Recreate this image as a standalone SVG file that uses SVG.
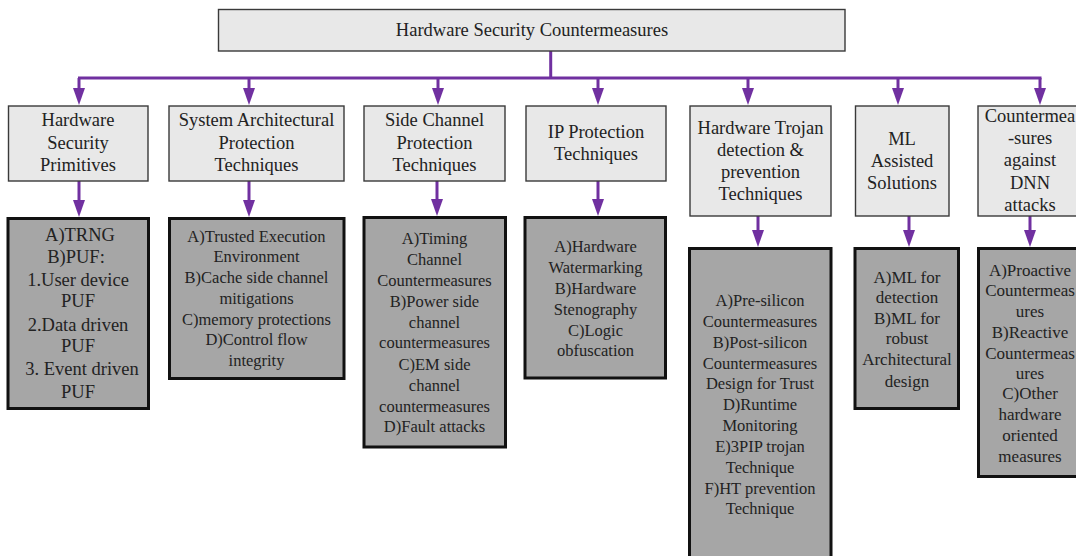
<svg xmlns="http://www.w3.org/2000/svg" width="1076" height="556" viewBox="0 0 1076 556">
  <style>
    .head { fill: #e8e8e8; stroke: #3a3a3a; stroke-width: 1.4; }
    .detail { fill: #a6a6a6; stroke: #111; stroke-width: 3; }
    .t { font-family: "Liberation Serif", "Times New Roman", serif; fill: #222; text-anchor: middle; }
    .h { font-size: 18.5px; }
    .d { font-size: 16.5px; }
    .dl { font-size: 18.5px; }
    .dm { font-size: 17px; }
    .wire { fill: none; stroke: #7030a0; stroke-width: 3; }
    .arrow { fill: none; stroke: #7030a0; stroke-width: 3; marker-end: url(#tip); }
  </style>
  <defs>
    <marker id="tip" viewBox="0 0 17 12" markerWidth="17" markerHeight="12" refX="11" refY="6" orient="auto" markerUnits="userSpaceOnUse">
      <path d="M0 0 L17 6 L0 12 Z" fill="#7030a0"/>
    </marker>
  </defs>

  <rect width="1076" height="556" fill="#ffffff"/>

  <!-- connectors -->
  <g id="connectors">
    <path class="wire" d="M550.7 51 V78"/>
    <path class="wire" d="M78 78 H1041.5"/>
    <path class="arrow" d="M79 78 V99"/>
    <path class="arrow" d="M249 78 V99"/>
    <path class="arrow" d="M438 78 V99"/>
    <path class="arrow" d="M598 78 V99"/>
    <path class="arrow" d="M748 78 V99"/>
    <path class="arrow" d="M898 78 V99"/>
    <path class="arrow" d="M1040 78 V99"/>

    <path class="arrow" d="M79 181 V211"/>
    <path class="arrow" d="M249 181 V211"/>
    <path class="arrow" d="M437 181 V210"/>
    <path class="arrow" d="M598 181 V210"/>
    <path class="arrow" d="M758 216 V241"/>
    <path class="arrow" d="M909 216 V241"/>
    <path class="arrow" d="M1030 216 V241"/>
  </g>

  <!-- root -->
  <g id="root">
    <rect class="head" x="218.5" y="9.5" width="626.5" height="41.5"/>
    <text class="t h" x="532" y="36">Hardware Security Countermeasures</text>
  </g>

  <!-- category headers -->
  <g id="primitives">
    <rect class="head" x="8.5" y="106" width="139.5" height="75"/>
    <text class="t h" x="78"><tspan x="78" y="126">Hardware</tspan><tspan x="78" y="149">Security</tspan><tspan x="78" y="171">Primitives</tspan></text>
  </g>
  <g id="sysarch">
    <rect class="head" x="169" y="106" width="175" height="75"/>
    <text class="t h" x="256.5"><tspan x="256.5" y="126">System Architectural</tspan><tspan x="256.5" y="149">Protection</tspan><tspan x="256.5" y="171">Techniques</tspan></text>
  </g>
  <g id="sidechannel">
    <rect class="head" x="364" y="106" width="141" height="75"/>
    <text class="t h" x="434.5"><tspan x="434.5" y="126">Side Channel</tspan><tspan x="434.5" y="149">Protection</tspan><tspan x="434.5" y="171">Techniques</tspan></text>
  </g>
  <g id="ipprotection">
    <rect class="head" x="526" y="106" width="140" height="75"/>
    <text class="t h" x="596"><tspan x="596" y="138">IP Protection</tspan><tspan x="596" y="160">Techniques</tspan></text>
  </g>
  <g id="trojan">
    <rect class="head" x="690" y="106" width="141" height="110"/>
    <text class="t h" x="760.5"><tspan x="760.5" y="134">Hardware Trojan</tspan><tspan x="760.5" y="156">detection &amp;</tspan><tspan x="760.5" y="178">prevention</tspan><tspan x="760.5" y="200">Techniques</tspan></text>
  </g>
  <g id="mlassisted">
    <rect class="head" x="855.5" y="106" width="93.5" height="110"/>
    <text class="t h" x="902"><tspan x="902" y="145">ML</tspan><tspan x="902" y="167">Assisted</tspan><tspan x="902" y="189">Solutions</tspan></text>
  </g>
  <g id="dnn">
    <rect class="head" x="978" y="106" width="106" height="110"/>
    <text class="t h" x="1030"><tspan x="1030" y="122">Countermea</tspan><tspan x="1030" y="144">-sures</tspan><tspan x="1030" y="166">against</tspan><tspan x="1030" y="189">DNN</tspan><tspan x="1030" y="211">attacks</tspan></text>
  </g>

  <!-- detail boxes -->
  <g id="primitives-detail">
    <rect class="detail" x="8" y="218.5" width="140.5" height="190"/>
    <text class="t dl" x="78"><tspan x="80" y="241">A)TRNG</tspan><tspan x="76" y="263">B)PUF:</tspan><tspan x="78" y="286">1.User device</tspan><tspan x="78" y="307">PUF</tspan><tspan x="78" y="331">2.Data driven</tspan><tspan x="78" y="352">PUF</tspan><tspan x="82" y="375">3. Event driven</tspan><tspan x="78" y="398">PUF</tspan></text>
  </g>
  <g id="sysarch-detail">
    <rect class="detail" x="169.5" y="218.5" width="174.5" height="160"/>
    <text class="t d" x="256.5"><tspan x="256.5" y="242">A)Trusted Execution</tspan><tspan x="256.5" y="262">Environment</tspan><tspan x="256.5" y="282.5">B)Cache side channel</tspan><tspan x="256.5" y="304">mitigations</tspan><tspan x="256.5" y="325">C)memory protections</tspan><tspan x="256.5" y="345">D)Control flow</tspan><tspan x="256.5" y="365.5">integrity</tspan></text>
  </g>
  <g id="sidechannel-detail">
    <rect class="detail" x="364" y="217.5" width="141.5" height="229.5"/>
    <text class="t d" x="434.5"><tspan x="434.5" y="244">A)Timing</tspan><tspan x="434.5" y="265">Channel</tspan><tspan x="434.5" y="286">Countermeasures</tspan><tspan x="434.5" y="307">B)Power side</tspan><tspan x="434.5" y="328">channel</tspan><tspan x="434.5" y="348">countermeasures</tspan><tspan x="434.5" y="369.5">C)EM side</tspan><tspan x="434.5" y="390.5">channel</tspan><tspan x="434.5" y="411.5">countermeasures</tspan><tspan x="434.5" y="431.5">D)Fault attacks</tspan></text>
  </g>
  <g id="ipprotection-detail">
    <rect class="detail" x="525" y="217.5" width="140.5" height="160.5"/>
    <text class="t d" x="595.5"><tspan x="595.5" y="251.5">A)Hardware</tspan><tspan x="595.5" y="273">Watermarking</tspan><tspan x="595.5" y="294">B)Hardware</tspan><tspan x="595.5" y="315">Stenography</tspan><tspan x="595.5" y="335.5">C)Logic</tspan><tspan x="595.5" y="356">obfuscation</tspan></text>
  </g>
  <g id="trojan-detail">
    <rect class="detail" x="689.5" y="248.5" width="141.5" height="320"/>
    <text class="t d" x="760"><tspan x="760" y="306">A)Pre-silicon</tspan><tspan x="760" y="327">Countermeasures</tspan><tspan x="760" y="347.5">B)Post-silicon</tspan><tspan x="760" y="368.5">Countermeasures</tspan><tspan x="760" y="389">Design for Trust</tspan><tspan x="760" y="410">D)Runtime</tspan><tspan x="760" y="431">Monitoring</tspan><tspan x="760" y="451.5">E)3PIP trojan</tspan><tspan x="760" y="472.5">Technique</tspan><tspan x="760" y="493.5">F)HT prevention</tspan><tspan x="760" y="513.5">Technique</tspan></text>
  </g>
  <g id="mlassisted-detail">
    <rect class="detail" x="855" y="248.5" width="103.5" height="160"/>
    <text class="t dm" x="906.5"><tspan x="907" y="282.5">A)ML for</tspan><tspan x="907" y="303">detection</tspan><tspan x="907" y="324">B)ML for</tspan><tspan x="907" y="344">robust</tspan><tspan x="907" y="365">Architectural</tspan><tspan x="907" y="386.5">design</tspan></text>
  </g>
  <g id="dnn-detail">
    <rect class="detail" x="978.5" y="248.5" width="104" height="228"/>
    <text class="t dm" x="1030"><tspan x="1030" y="276">A)Proactive</tspan><tspan x="1030" y="296">Countermeas</tspan><tspan x="1030" y="316.5">ures</tspan><tspan x="1030" y="337.5">B)Reactive</tspan><tspan x="1030" y="358.5">Countermeas</tspan><tspan x="1030" y="379">ures</tspan><tspan x="1030" y="399">C)Other</tspan><tspan x="1030" y="420">hardware</tspan><tspan x="1030" y="441">oriented</tspan><tspan x="1030" y="462">measures</tspan></text>
  </g>
</svg>
